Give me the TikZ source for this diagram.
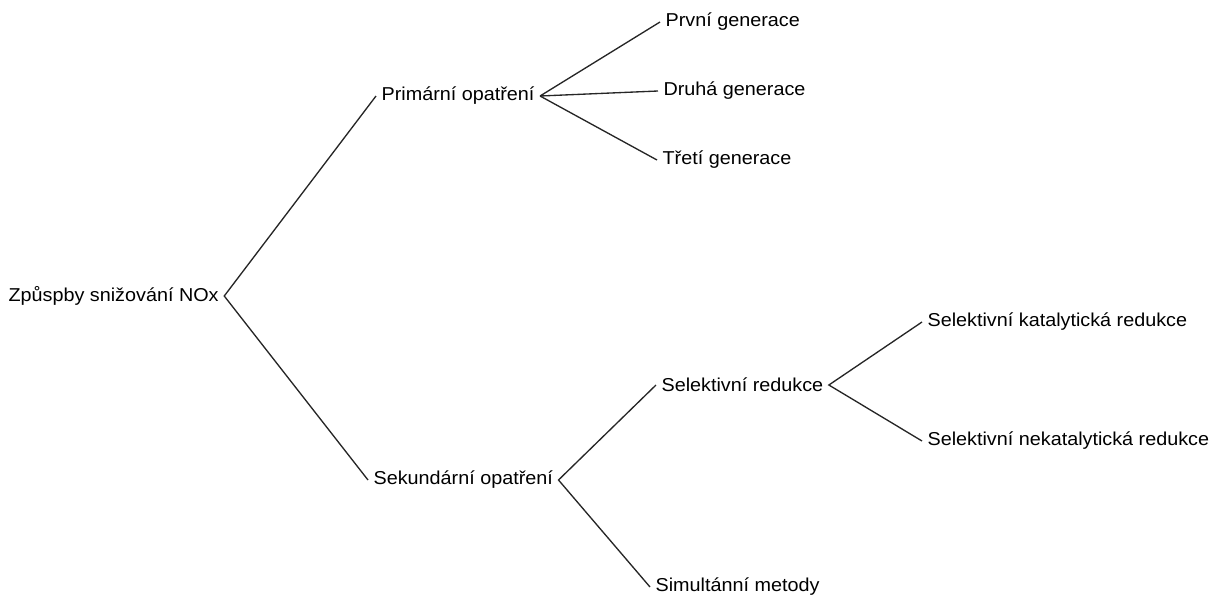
\documentclass[tikz,border=0pt]{standalone}
\usepackage{fontspec}
\setmainfont[FakeStretch=1.06]{Liberation Sans}
\usetikzlibrary{positioning}

\begin{document}
\begin{tikzpicture}[x=.75pt,y=-.75pt,font=\fontsize{14}{16}\selectfont,
  item/.style={anchor=west,inner sep=4pt},
  link/.style={draw=black!85,line width=1pt}]
\useasboundingbox (0,0) rectangle (1215,597);
% levels of the tree
\node[item] (root) at (3,296) {Způspby snižování NOx};
\node[item] (prim) at (376,96) {Primární opatření};
\node[item] (sek) at (368,480) {Sekundární opatření};
\node[item] (gen1) at (660,22) {První generace};
\node[item] (gen2) at (658,91) {Druhá generace};
\node[item] (gen3) at (657,160) {Třetí generace};
\node[item] (selred) at (656,385) {Selektivní redukce};
\node[item] (simul) at (650,587) {Simultánní metody};
\node[item] (scr) at (922,322) {Selektivní katalytická redukce};
\node[item] (sncr) at (922,441) {Selektivní nekatalytická redukce};
% branches
\draw[link] (prim.west) -- (root.east) -- (sek.west);
\foreach \leaf in {gen1,gen2,gen3} \draw[link] (prim.east) -- (\leaf.west);
\draw[link] (selred.west) -- (sek.east) -- (simul.west);
\draw[link] (scr.west) -- (selred.east) -- (sncr.west);
\end{tikzpicture}
\end{document}
